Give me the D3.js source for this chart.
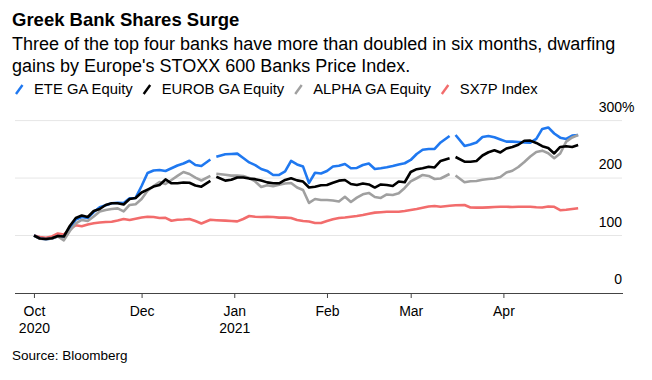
<!DOCTYPE html>
<html><head><meta charset="utf-8">
<script src="https://cdn.jsdelivr.net/npm/d3@7"></script>
<style>
html,body{margin:0;padding:0;background:#fff;}
svg{display:block;font-family:"Liberation Sans",Arial,Helvetica,sans-serif;}
</style></head><body>
<svg id="chart" width="652" height="380"></svg>
<script>
const dates = ["2020-10-26","2020-10-28","2020-10-30","2020-11-01","2020-11-03","2020-11-05","2020-11-07","2020-11-09","2020-11-11","2020-11-13","2020-11-15","2020-11-17","2020-11-19","2020-11-21","2020-11-23","2020-11-25","2020-11-27","2020-11-29","2020-12-01","2020-12-03","2020-12-05","2020-12-07","2020-12-09","2020-12-11","2020-12-13","2020-12-15","2020-12-17","2020-12-19","2020-12-21","2020-12-24","2020-12-25","2020-12-26","2020-12-29","2020-12-31","2021-01-02","2021-01-04","2021-01-06","2021-01-08","2021-01-10","2021-01-12","2021-01-14","2021-01-16","2021-01-18","2021-01-20","2021-01-22","2021-01-24","2021-01-26","2021-01-28","2021-01-30","2021-02-01","2021-02-03","2021-02-05","2021-02-07","2021-02-09","2021-02-11","2021-02-13","2021-02-15","2021-02-17","2021-02-19","2021-02-21","2021-02-23","2021-02-25","2021-02-27","2021-03-01","2021-03-03","2021-03-05","2021-03-07","2021-03-09","2021-03-11","2021-03-14","2021-03-15","2021-03-16","2021-03-19","2021-03-21","2021-03-23","2021-03-25","2021-03-27","2021-03-29","2021-03-31","2021-04-02","2021-04-04","2021-04-06","2021-04-08","2021-04-10","2021-04-12","2021-04-14","2021-04-16","2021-04-18","2021-04-20","2021-04-22","2021-04-24","2021-04-26"];

const eteValues = [100,94.9,93.5,94.9,98.9,98.3,112,127.9,132.3,130.5,
141,149.3,152.7,156.1,157,156.7,164.8,165.4,186.2,208.9,
213.2,214.1,212.4,217.1,221.9,225.4,230.1,222.8,221.1,232.4,
null,237.1,241.4,242,242.6,235,227.2,222.5,215.8,212.4,
205.4,205.4,211.5,229.8,223.7,220,191.5,209.2,208,212.4,
220.2,221.4,224.5,217.1,217.6,222.8,225.4,215.8,217.1,218.8,
221.1,223.7,225.8,231.5,241.9,249.3,250.7,250.7,262,273.3,
null,275,255.9,258.5,262,271.5,273.3,271,267.2,263.4,
263.4,262.8,262.1,261.6,268.1,285.5,288.1,277.6,270.3,268,
273.8,275];

const eurobValues = [100,94.9,94,95.2,99.2,98.3,116.6,130.5,134.9,132.3,
142.7,146.2,153.2,156.1,156.1,154,163.6,165.4,174.9,180,
185.2,188,197.6,190.9,190.9,192.3,191.8,187.1,185,195,
null,202.3,195.6,197,201,201,199.1,198.1,195.8,192.5,
190.9,190.9,196.7,199.8,196,193.9,183.6,185,187.6,188,
192,195.5,196.7,189.7,188,190.6,188.9,183.5,188.9,188,
186.2,194.1,192.7,210.6,215.5,217.2,219.8,218.4,229.8,234.5,
null,236.7,228.5,228.5,229.8,239.3,244.9,248.4,244.6,251.5,
254.1,258,265,265.1,261.1,255.4,252.4,242.8,254.1,255.4,
254.1,257.6];

const alphaValues = [100,94.3,93.5,94.9,98.3,91.7,107.9,121,127.1,125.3,
133.2,141.9,144.5,146.2,147.3,141.9,153.2,154.4,163.6,177.9,
186.2,193.2,189.7,196.7,203.7,210.6,207.1,200.7,195.8,203.7,
null,207.5,205.7,204.2,204.2,203.7,200.2,194.1,184.5,187.6,
185.9,188.5,190.6,191.5,183.6,179.3,156.7,163.6,161.9,161.9,
161,159.3,167.4,158.4,165.9,171.8,174.1,167.1,165.4,171.5,
170.6,173.5,182.8,194.1,199.7,205.4,203.7,198.4,199.3,207.1,
null,204.5,192.7,194.4,195,197,198.4,199.3,201.9,209.7,
212.7,219.3,228,237.4,245.4,247.7,243.2,234.5,242.8,263.5,
270.7,275];

const sx7pValues = [100,97.5,96.1,98.3,103.6,101.8,110.9,118,116.3,119.2,
121.5,122.7,123.6,124.1,126.2,128.8,127.1,129.2,131.4,132.8,
132.3,130.5,130.7,125.7,127.4,127.9,128.8,125.3,121,127.4,
127,126.7,126,125.3,124.6,128.8,134,132.8,132.3,132.6,
132.3,131.2,131.1,130.5,127.1,125.3,124.3,121.8,121.8,125.3,
128.3,130.5,131.4,132.6,134,135.8,138,139.9,140.6,141.3,
141.5,141.5,142.7,144.5,146.2,148.3,150.6,151.4,150.2,151.8,
152.3,152.7,153.2,148.8,148.5,148.5,149,149.7,150.2,150,
149.7,150.2,150.2,150.2,149.2,148.8,150.6,150,144.1,144.8,
146.2,147.4];

const seriesNames = ["ETE GA Equity","EUROB GA Equity","ALPHA GA Equity","SX7P Index"];
const seriesColors = ["#1f78f0","#000000","#a0a0a0","#f26c6c"];
const seriesValues = [eteValues, eurobValues, alphaValues, sx7pValues];
const drawOrder = [3, 0, 2, 1];

const yTicks = [0, 100, 200, 300];
const xTickDates = ["2020-10-26","2020-12-01","2021-01-01","2021-02-01","2021-03-01","2021-04-01"];
const xTickMonths = ["Oct","Dec","Jan","Feb","Mar","Apr"];
const xTickYears = ["2020","","2021","","",""];

const titleText = "Greek Bank Shares Surge";
const subtitleLines = ["Three of the top four banks have more than doubled in six months, dwarfing",
                       "gains by Europe's STOXX 600 Banks Price Index."];
const sourceText = "Source: Bloomberg";

const parse = d3.utcParse("%Y-%m-%d");
const svg = d3.select("#chart");

const x = d3.scaleUtc()
  .domain([parse("2020-10-20"), parse("2021-05-11")])
  .range([16, 623]);
const y = d3.scaleLinear().domain([0, 300]).range([293, 120.6]);

// Title / subtitle
svg.append("text").attr("x", 12).attr("y", 26)
  .attr("font-size", 18.5).attr("font-weight", "bold").attr("fill", "#000")
  .text(titleText);
subtitleLines.forEach((t, i) => {
  svg.append("text").attr("x", 12).attr("y", 50 + i * 21.7)
    .attr("font-size", 18).attr("fill", "#000").text(t);
});

// Legend
let lx = 16;
const legendBaseline = 94;
seriesNames.forEach((name, i) => {
  svg.append("line")
    .attr("x1", lx).attr("y1", legendBaseline)
    .attr("x2", lx + 6.5).attr("y2", legendBaseline - 9)
    .attr("stroke", seriesColors[i]).attr("stroke-width", 2.4);
  const t = svg.append("text").attr("x", lx + 18).attr("y", legendBaseline)
    .attr("font-size", 14.8).attr("fill", "#000").text(name);
  lx = lx + 18 + t.node().getComputedTextLength() + 11;
});

// Gridlines and y labels
const grid = svg.append("g");
yTicks.forEach(v => {
  if (v !== 0) {
    grid.append("line")
      .attr("x1", 15).attr("x2", 622)
      .attr("y1", y(v)).attr("y2", y(v))
      .attr("stroke", "#e6e6e6").attr("stroke-width", 1);
  }
  grid.append("text").attr("x", 622).attr("y", y(v) - 9)
    .attr("text-anchor", "end").attr("font-size", 14).attr("fill", "#000")
    .text(v);
  if (v === 300) {
    grid.append("text").attr("x", 622).attr("y", y(v) - 9)
      .attr("font-size", 14).attr("fill", "#000").text("%");
  }
});

// X axis
const xAxis = d3.axisBottom(x)
  .tickValues(xTickDates.map(parse))
  .tickSize(5).tickSizeOuter(0)
  .tickFormat((d, i) => xTickMonths[i]);
const gx = svg.append("g").attr("transform", "translate(0,293)").call(xAxis);
gx.select(".domain").attr("stroke", "#444").attr("d", "M15,0.5H623");
gx.selectAll(".tick line").attr("stroke", "#444");
gx.selectAll(".tick text")
  .attr("y", 23).attr("dy", 0)
  .attr("font-size", 14).attr("font-family", "Liberation Sans, Arial, sans-serif")
  .attr("fill", "#000");
gx.selectAll(".tick").append("text")
  .attr("y", 40).attr("fill", "#000").attr("text-anchor", "middle")
  .attr("font-size", 14).attr("font-family", "Liberation Sans, Arial, sans-serif")
  .text((d, i) => xTickYears[i]);

// Lines
const line = d3.line()
  .defined(d => d.v !== null)
  .x(d => x(d.date))
  .y(d => y(d.v));
drawOrder.forEach(si => {
  const data = dates.map((ds, j) => ({date: parse(ds), v: seriesValues[si][j]}));
  svg.append("path").datum(data)
    .attr("fill", "none")
    .attr("stroke", seriesColors[si])
    .attr("stroke-width", 2.6)
    .attr("stroke-linejoin", "round")
    .attr("d", line);
});

// Source
svg.append("text").attr("x", 12).attr("y", 360)
  .attr("font-size", 13.5).attr("fill", "#000").text(sourceText);
</script>
</body></html>
